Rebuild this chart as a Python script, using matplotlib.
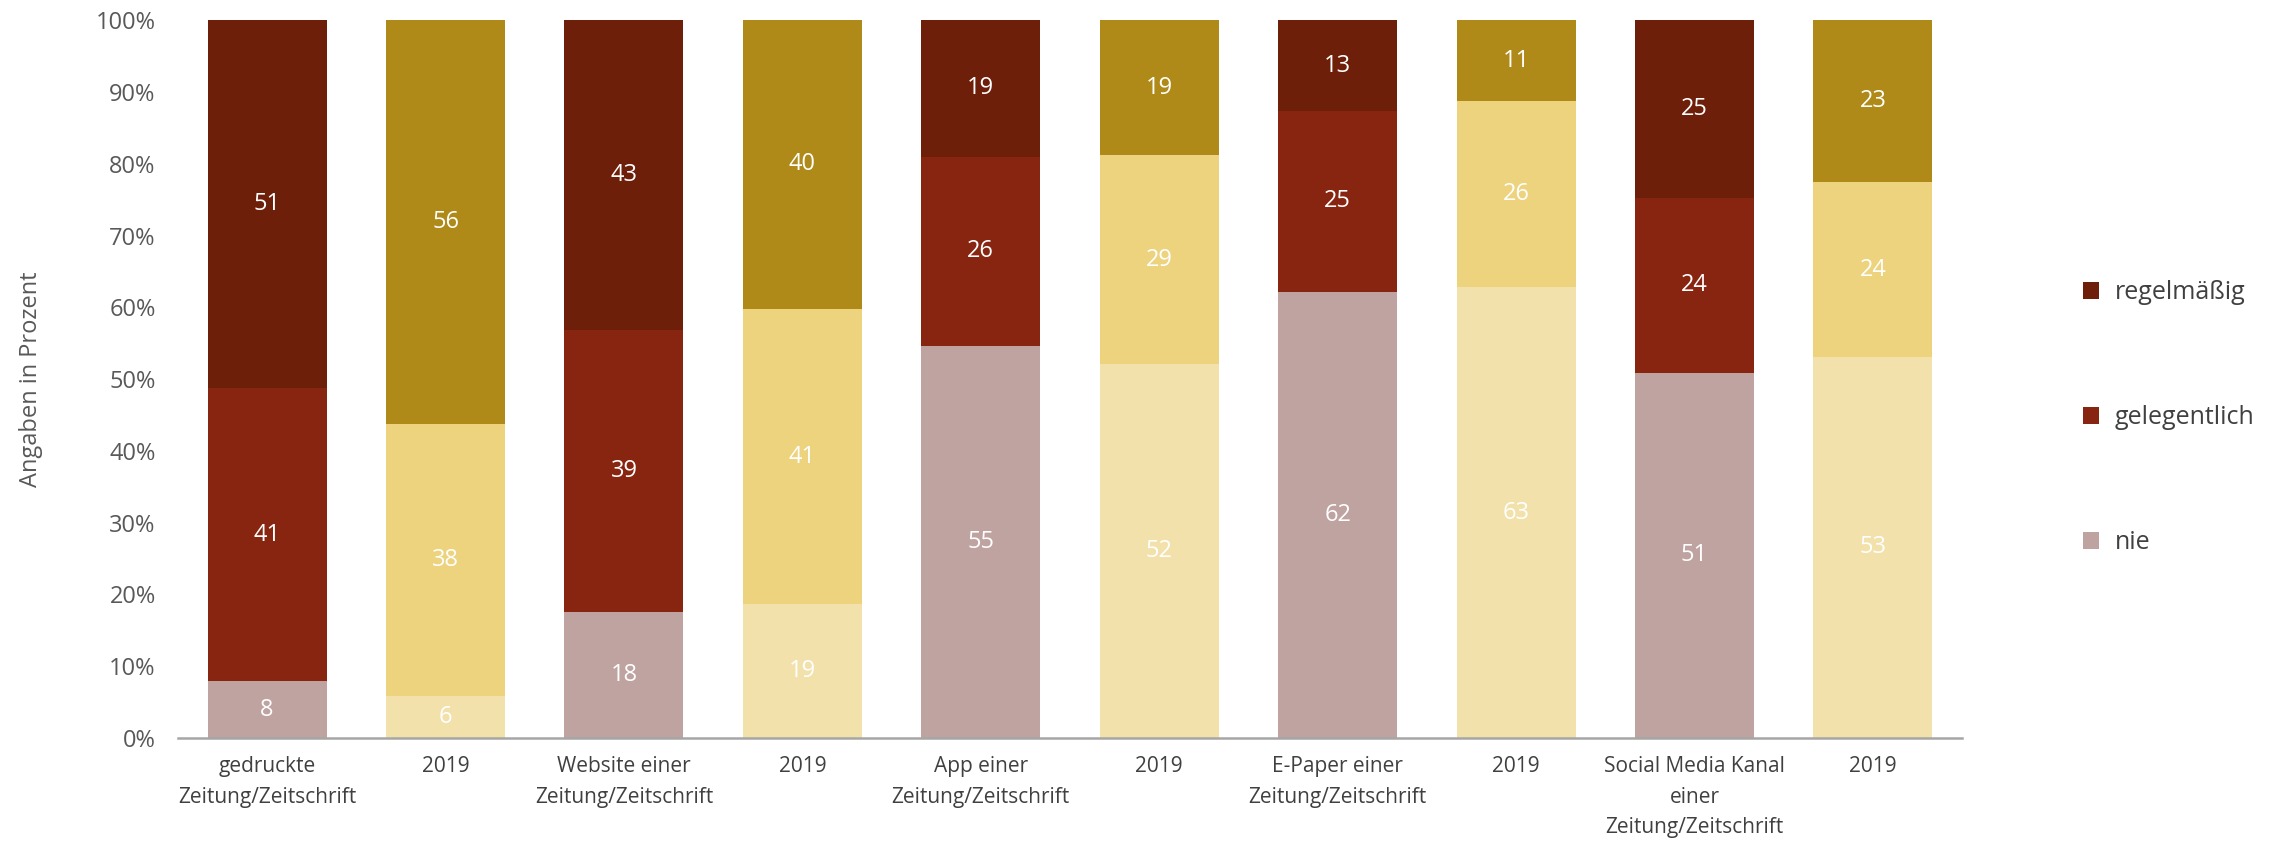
import matplotlib
matplotlib.use("Agg")
import matplotlib.pyplot as plt
import numpy as np
from matplotlib.patches import Patch

categories = ["gedruckte\nZeitung/Zeitschrift", "2019",
              "Website einer\nZeitung/Zeitschrift", "2019",
              "App einer\nZeitung/Zeitschrift", "2019",
              "E-Paper einer\nZeitung/Zeitschrift", "2019",
              "Social Media Kanal\neiner\nZeitung/Zeitschrift", "2019"]
nie = [7.9, 5.9, 17.6, 18.6, 54.6, 52.1, 62.2, 62.8, 50.9, 53.1]
gelegentlich = [40.8, 37.8, 39.2, 41.2, 26.4, 29.1, 25.1, 25.9, 24.3, 24.3]
regelmaessig = [51.3, 56.3, 43.2, 40.2, 19.0, 18.8, 12.7, 11.3, 24.8, 22.6]
series_names = ["regelmäßig", "gelegentlich", "nie"]
y_ticks = [0, 10, 20, 30, 40, 50, 60, 70, 80, 90, 100]

colors_now = {"nie": "#BFA3A0", "gelegentlich": "#872510", "regelmäßig": "#6D1F0A"}
colors_2019 = {"nie": "#F2E1AA", "gelegentlich": "#EDD37E", "regelmäßig": "#AF8A19"}

plt.rcParams["font.family"] = ["Open Sans", "DejaVu Sans"]

fig = plt.figure(figsize=(22.72, 8.41), dpi=100)
ax = fig.add_axes([0.0783, 0.1225, 0.7853, 0.8535])

x = np.arange(len(categories))
width = 0.667
bar_colors = [colors_2019 if i % 2 == 1 else colors_now for i in range(len(categories))]

data = {"nie": nie, "gelegentlich": gelegentlich, "regelmäßig": regelmaessig}
bottom = np.zeros(len(categories))
for name in ["nie", "gelegentlich", "regelmäßig"]:
    vals = np.array(data[name])
    cols = [bc[name] for bc in bar_colors]
    ax.bar(x, vals, width, bottom=bottom, color=cols, edgecolor="none")
    for xi, v, b in zip(x, vals, bottom):
        ax.text(xi, b + v / 2, f"{v:.0f}", ha="center", va="center",
                color="white", fontsize=17)
    bottom += vals

ax.set_xlim(-0.5, len(categories) - 0.5)
ax.set_ylim(0, 100)
ax.set_yticks(y_ticks)
ax.set_yticklabels([f"{t}%" for t in y_ticks], fontsize=17, color="#595959")
ax.set_xticks(x)
ax.set_xticklabels(categories, fontsize=15, color="#404040", linespacing=1.6)
ax.tick_params(axis="both", length=0)
ax.tick_params(axis="x", pad=13)
ax.tick_params(axis="y", pad=16)
for s in ["top", "right", "left"]:
    ax.spines[s].set_visible(False)
ax.spines["bottom"].set_color("#A6A6A6")
ax.spines["bottom"].set_linewidth(1.8)
ax.set_ylabel("Angaben in Prozent", fontsize=17, color="#595959", labelpad=38)

handles = [Patch(facecolor=colors_now[n], edgecolor="none") for n in series_names]
fig.legend(handles, series_names, loc="center left",
           bbox_to_anchor=(0.907, 0.503), frameon=False, fontsize=18,
           labelspacing=4.0, handlelength=0.65, handleheight=0.65,
           handletextpad=0.6, labelcolor="#404040")

fig.savefig("out.png", dpi=100)
